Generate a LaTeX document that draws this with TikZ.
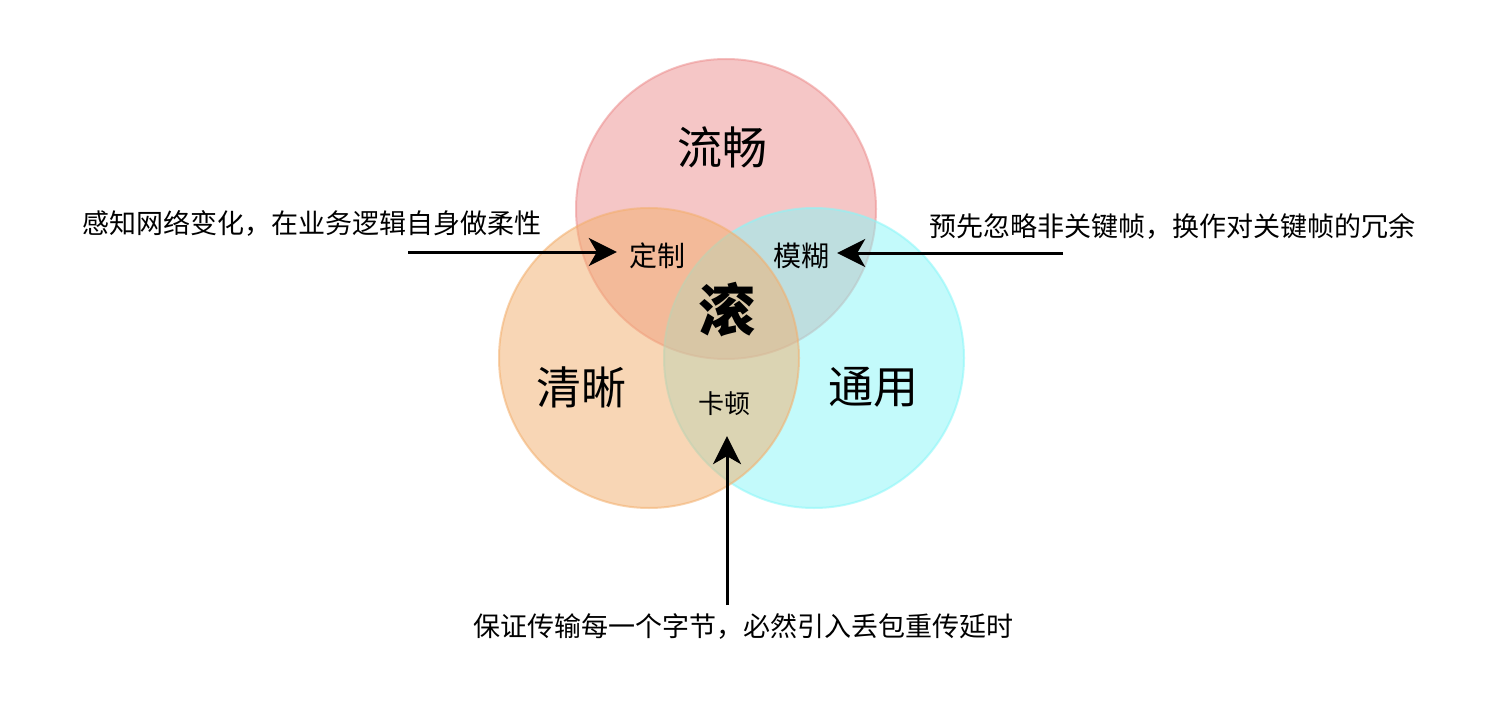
\documentclass[tikz,border=0pt]{standalone}
\usepackage{fontspec}
\setmainfont{Noto Sans CJK SC}
\usetikzlibrary{arrows.meta}
\definecolor{redc}{RGB}{237,143,143}
\definecolor{orangec}{RGB}{243,175,109}
\definecolor{cyanc}{RGB}{137,247,249}
\begin{document}
\begin{tikzpicture}[x=1pt,y=-1pt,
  venn/.style={circle, minimum size=300pt, inner sep=0pt, line width=2pt, fill opacity=0.5, draw opacity=0.55},
  big/.style={inner sep=0pt, font=\fontsize{45}{50}\selectfont},
  mid/.style={inner sep=0pt, font=\fontsize{28}{32}\selectfont},
  note/.style={inner sep=0pt, font=\fontsize{27}{30}\selectfont},
  arr/.style={line width=3pt, -{Stealth[length=28pt 0 0,width=28pt 0 0,inset=8pt 0 0]}}]
\fill[white] (0,0) rectangle (1504,714);
\useasboundingbox (0,0) rectangle (1504,714);
% circles
\node[venn, fill=redc, draw=redc] (red) at (726,209) {};
\node[venn, fill=cyanc, draw=cyanc] (cyan) at (814,358) {};
\node[venn, fill=orangec, draw=orangec] (orange) at (649,358) {};
% labels
\node[big] (liuchang) at (722,147) {流畅};
\node[big] (qingxi) at (581,387) {清晰};
\node[big] (tongyong) at (873,387) {通用};
\node[inner sep=0pt, font=\fontsize{57}{60}\selectfont\bfseries] (gun) at (727,310) {滚};
\node[mid] (dingzhi) at (657,256) {定制};
\node[mid] (mohu) at (801,256) {模糊};
\node[inner sep=0pt, font=\fontsize{26}{30}\selectfont] (kadun) at (724,404) {卡顿};
% annotations
\node[note] (t1) at (312,223) {感知网络变化，在业务逻辑自身做柔性};
\node[note] (t2) at (1172,226) {预先忽略非关键帧，换作对关键帧的冗余};
\node[note] (t3) at (743,626) {保证传输每一个字节，必然引入丢包重传延时};
% arrows
\coordinate (a1) at (408,252);
\coordinate (a2) at (1063,253);
\coordinate (a3) at (727,605);
\draw[arr] (a1) -- ([xshift=-12pt]a1 -| dingzhi.west);
\draw[arr] (a2) -- ([xshift=8pt]a2 -| mohu.east);
\draw[arr] (a3) -- ([yshift=-20pt]a3 |- kadun.south);
\end{tikzpicture}
\end{document}
